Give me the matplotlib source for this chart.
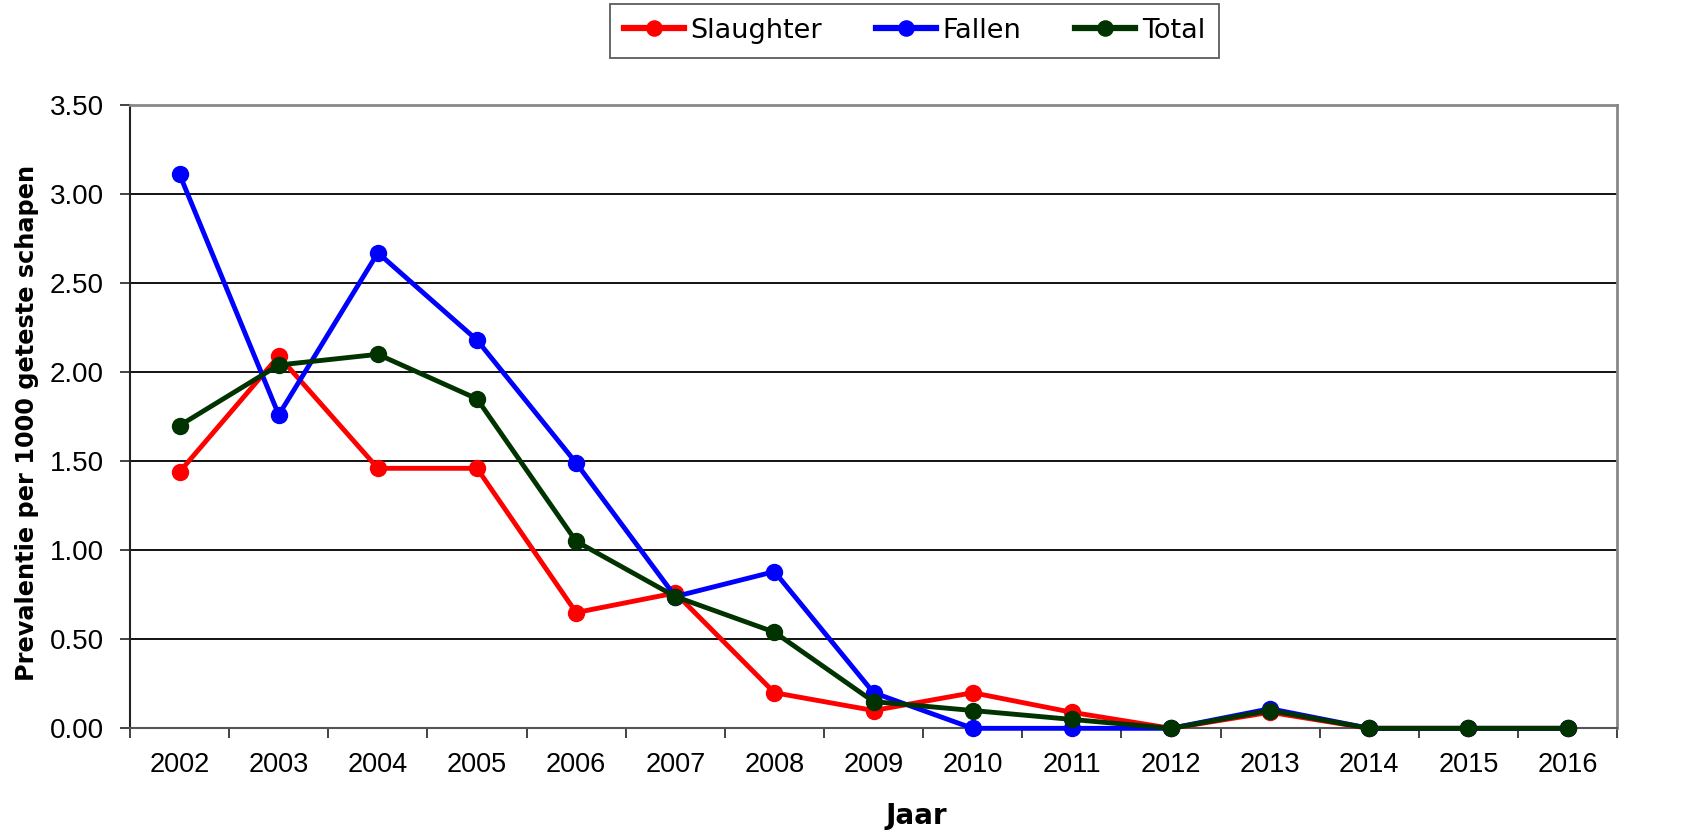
import numpy as np
import matplotlib
matplotlib.use('Agg')
import matplotlib.pyplot as plt
from matplotlib.ticker import FixedLocator, MultipleLocator

# prevalence per 1000 tested sheep
years = ['2002', '2003', '2004', '2005', '2006', '2007', '2008', '2009',
         '2010', '2011', '2012', '2013', '2014', '2015', '2016']
slaughter = [1.44, 2.09, 1.46, 1.46, 0.65, 0.76, 0.20, 0.10, 0.20, 0.09, 0.00, 0.09, 0.00, 0.00, 0.00]
fallen = [3.11, 1.76, 2.67, 2.18, 1.49, 0.74, 0.88, 0.20, 0.00, 0.00, 0.00, 0.11, 0.00, 0.00, 0.00]
total = [1.70, 2.04, 2.10, 1.85, 1.05, 0.74, 0.54, 0.15, 0.10, 0.05, 0.00, 0.10, 0.00, 0.00, 0.00]

plt.rcParams['font.family'] = ['Liberation Sans', 'DejaVu Sans']

fig = plt.figure(figsize=(17.02, 8.30), dpi=100)
ax = fig.add_axes([0.0764, 0.1225, 0.8737, 0.7510])

x = np.arange(len(years))
style = dict(linewidth=3.5, marker='o', markersize=11.5, clip_on=False, zorder=3)
ax.plot(x, slaughter, color='#ff0000', label='Slaughter', **style)
ax.plot(x, fallen, color='#0000ff', label='Fallen', **style)
ax.plot(x, total, color='#003300', label='Total', **style)

ax.set_xlim(-0.5, len(years) - 0.5)
ax.set_ylim(0, 3.5)
ax.yaxis.set_major_locator(MultipleLocator(0.5))
ax.set_yticklabels([f'{v:.2f}' for v in ax.get_yticks()])
ax.grid(axis='y', color='#111111', linewidth=1.4, zorder=1)

# category labels centred, tick marks on the boundaries
ax.set_xticks(x)
ax.set_xticklabels(years)
ax.xaxis.set_minor_locator(FixedLocator(np.arange(-0.5, len(years), 1.0)))
ax.tick_params(axis='x', which='major', length=0, pad=17, labelsize=19.5)
ax.tick_params(axis='x', which='minor', direction='out', length=7, width=1.2, color='#222222')
ax.tick_params(axis='y', direction='out', length=7, width=1.2, color='#222222', labelsize=20, pad=12)

for side in ['top', 'right']:
    ax.spines[side].set_color('#888888')
    ax.spines[side].set_linewidth(2)
ax.spines['left'].set_color('#222222')
ax.spines['left'].set_linewidth(1.5)
ax.spines['bottom'].set_color('#555555')
ax.spines['bottom'].set_linewidth(1.5)

ax.set_xlabel('Jaar', fontsize=20, fontweight='bold', family='DejaVu Sans')
ax.xaxis.set_label_coords(0.529, -0.118)
ax.set_ylabel('Prevalentie per 1000 geteste schapen', fontsize=17.3, fontweight='bold', family='DejaVu Sans')
ax.yaxis.set_label_coords(-0.061, 0.49)

leg = fig.legend(loc='center', bbox_to_anchor=(0.5373, 0.9627), ncol=3,
                 prop={'family': 'DejaVu Sans', 'size': 19.5},
                 frameon=True, fancybox=False, edgecolor='#333333', borderpad=0.5,
                 handlelength=2.2, handletextpad=0.25, columnspacing=2.0, markerscale=0.95)
leg.get_frame().set_linewidth(1.3)
for line in leg.get_lines():
    line.set_linewidth(4.5)

plt.savefig('out.png', dpi=100)
